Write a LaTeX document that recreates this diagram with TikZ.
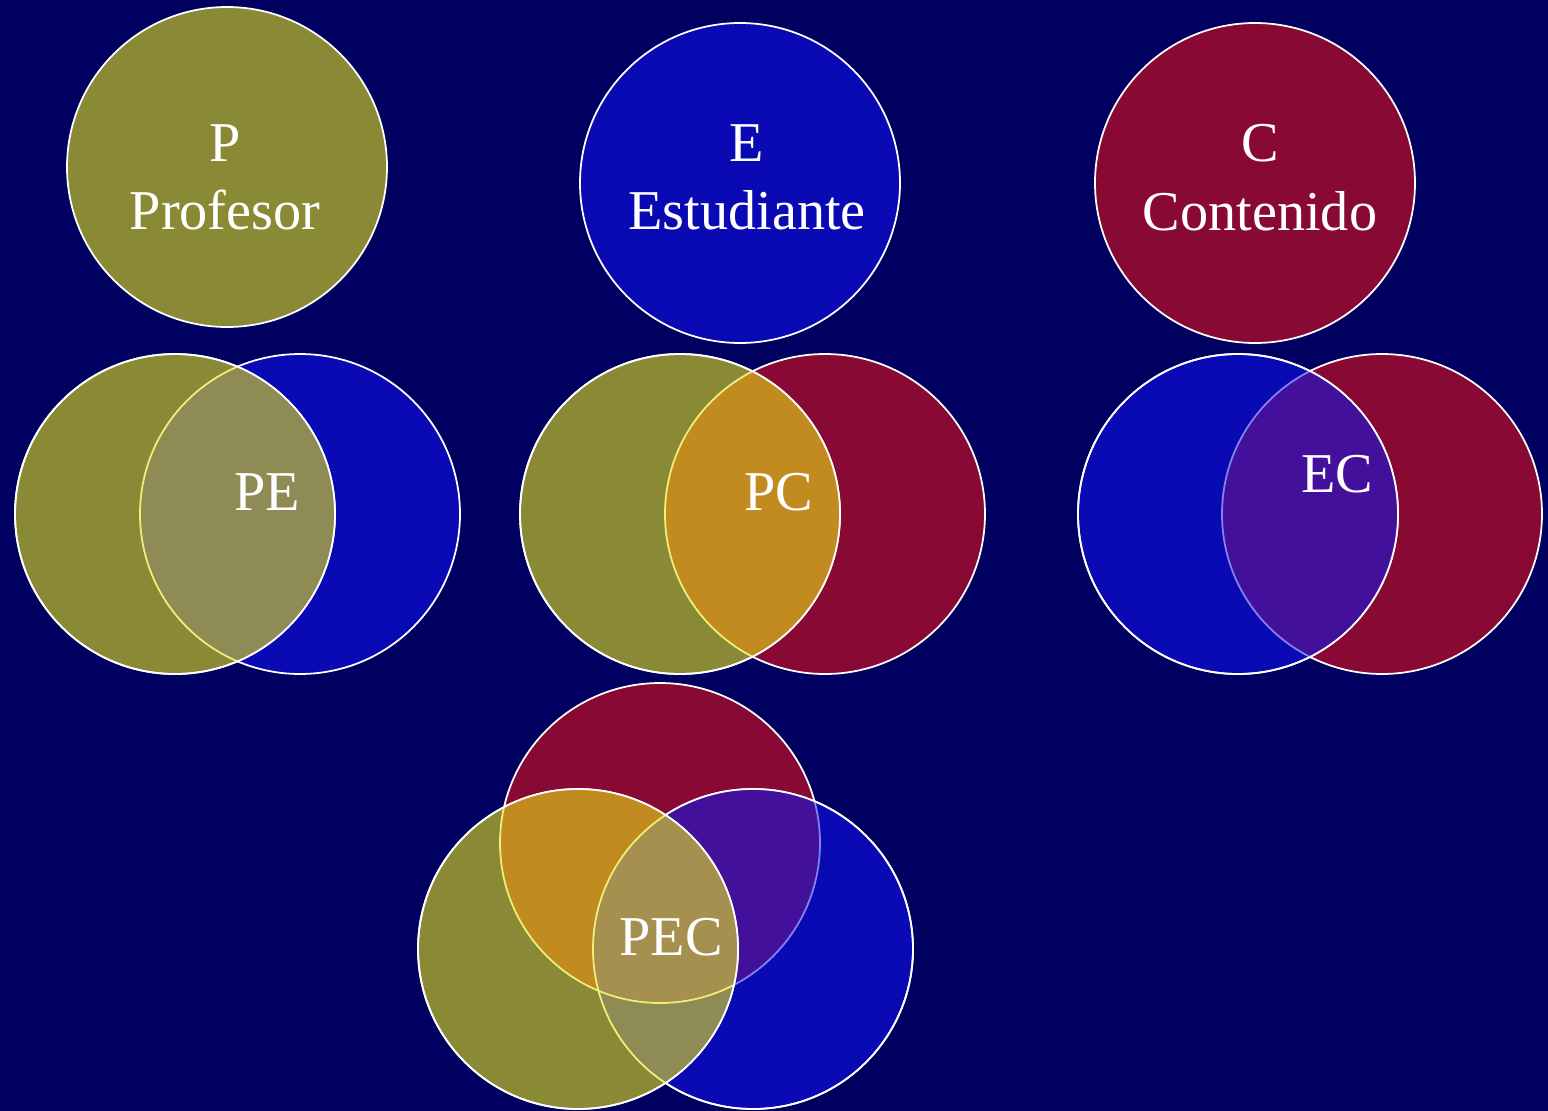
\documentclass[tikz,border=0pt]{standalone}
\usepackage{fontspec}
\setmainfont{Liberation Serif}

\definecolor{bgnavy}{RGB}{0,0,96}
\definecolor{olivefill}{RGB}{138,138,54}
\definecolor{bluefill}{RGB}{10,10,180}
\definecolor{redfill}{RGB}{136,10,52}
\definecolor{pefill}{RGB}{142,139,85}
\definecolor{pcfill}{RGB}{194,139,32}
\definecolor{ecfill}{RGB}{66,16,154}
\definecolor{pecfill}{RGB}{166,144,79}
\definecolor{yellowedge}{RGB}{240,240,120}
\definecolor{blueedge}{RGB}{130,130,240}

\begin{document}
\begin{tikzpicture}[
  x=1cm,
  y=1cm,
  font=\fontsize{32}{39}\selectfont,
  ring/.style={circle,minimum size=6.4cm,inner sep=0pt,line width=1pt,draw=white},
  olivering/.style={ring,fill=olivefill},
  bluering/.style={ring,fill=bluefill},
  redring/.style={ring,fill=redfill},
  tintedge/.style={line width=1pt},
  tag/.style={text=white,align=center,inner sep=0pt}
]

% Background and page size
\fill[bgnavy] (0,0) rectangle (30.96,-22.22);
\useasboundingbox (0,0) rectangle (30.96,-22.22);

% Top row: the three single sets
\node[olivering] (P) at (4.54,-3.34) {};
\node[bluering] (E) at (14.80,-3.66) {};
\node[redring] (C) at (25.10,-3.66) {};
\node[tag] (labP) at (4.50,-3.55) {P\\Profesor};
\node[tag] (labE) at (14.94,-3.55) {E\\Estudiante};
\node[tag] (labC) at (25.20,-3.55) {C\\Contenido};

% PE pair (olive above blue)
\node[bluering] (peE) at (6.00,-10.28) {};
\node[olivering] (peP) at (3.50,-10.28) {};
\begin{scope}
  \clip (peP.center) circle (3.2cm);
  \fill[pefill] (peE.center) circle (3.2cm);
  \draw[tintedge,yellowedge] (peE.center) circle (3.2cm);
\end{scope}
\draw[tintedge,white] (peP.center) circle (3.2cm);
\node[tag] (labPE) at (5.34,-9.84) {PE};

% PC pair (olive above red)
\node[redring] (pcC) at (16.50,-10.28) {};
\node[olivering] (pcP) at (13.60,-10.28) {};
\begin{scope}
  \clip (pcP.center) circle (3.2cm);
  \fill[pcfill] (pcC.center) circle (3.2cm);
  \draw[tintedge,yellowedge] (pcC.center) circle (3.2cm);
\end{scope}
\draw[tintedge,white] (pcP.center) circle (3.2cm);
\node[tag] (labPC) at (15.58,-9.84) {PC};

% EC pair (blue above red)
\node[redring] (ecC) at (27.64,-10.28) {};
\node[bluering] (ecE) at (24.76,-10.28) {};
\begin{scope}
  \clip (ecE.center) circle (3.2cm);
  \fill[ecfill] (ecC.center) circle (3.2cm);
  \draw[tintedge,blueedge] (ecC.center) circle (3.2cm);
\end{scope}
\draw[tintedge,white] (ecE.center) circle (3.2cm);
\node[tag] (labEC) at (26.74,-9.48) {EC};

% PEC triple (red, then blue, then olive)
\node[redring] (pecC) at (13.20,-16.86) {};
\node[bluering] (pecE) at (15.06,-18.98) {};
\begin{scope}
  \clip (pecE.center) circle (3.2cm);
  \fill[ecfill] (pecC.center) circle (3.2cm);
  \draw[tintedge,blueedge] (pecC.center) circle (3.2cm);
\end{scope}
\draw[tintedge,white] (pecE.center) circle (3.2cm);
\node[olivering] (pecP) at (11.56,-18.98) {};
\begin{scope}
  \clip (pecP.center) circle (3.2cm);
  \fill[pcfill] (pecC.center) circle (3.2cm);
  \fill[pefill] (pecE.center) circle (3.2cm);
  \begin{scope}
    \clip (pecE.center) circle (3.2cm);
    \fill[pecfill] (pecC.center) circle (3.2cm);
  \end{scope}
  \draw[tintedge,yellowedge] (pecC.center) circle (3.2cm);
  \draw[tintedge,yellowedge] (pecE.center) circle (3.2cm);
\end{scope}
\draw[tintedge,white] (pecP.center) circle (3.2cm);
\node[tag] (labPEC) at (13.42,-18.74) {PEC};

\end{tikzpicture}
\end{document}
